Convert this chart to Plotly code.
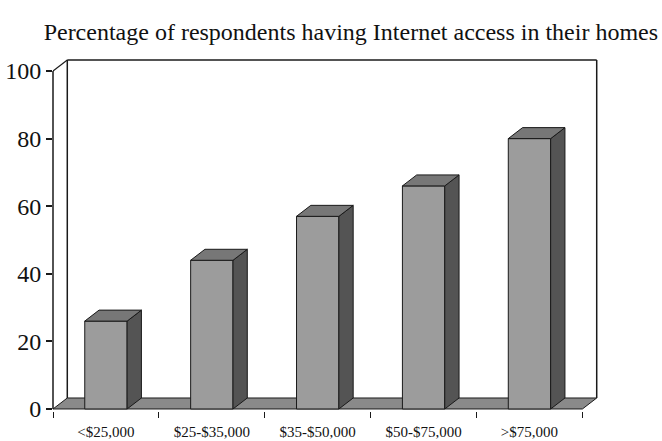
import plotly.graph_objects as go

categories = ["<$25,000", "$25-$35,000", "$35-$50,000", "$50-$75,000", ">$75,000"]
values = [26, 44, 57, 66, 80]
y_ticks = [0, 20, 40, 60, 80, 100]
title_text = "Percentage of respondents having Internet access in their homes"

# 3D depth offsets (data units)
DX = 0.135
DY = 3.25
BAR_W = 0.40

xpos = list(range(len(categories)))
XMIN, XMAX = -0.5, 4.5 + DX + 0.05
YMIN, YMAX = -0.6, 100 + DY + 0.6

FRONT = "#9c9c9c"
SIDE = "#545454"
TOP = "#777777"
EDGE = "#1a1a1a"
FONT = "Liberation Serif"

fig = go.Figure()

# front faces
fig.add_trace(go.Bar(
    x=xpos, y=values, width=BAR_W,
    marker=dict(color=FRONT, line=dict(color=EDGE, width=1)),
    hoverinfo="skip", showlegend=False,
))

# side and top faces
for xi, v in zip(xpos, values):
    r = xi + BAR_W / 2
    l = xi - BAR_W / 2
    fig.add_trace(go.Scatter(
        x=[r, r + DX, r + DX, r, r], y=[0, DY, v + DY, v, 0],
        mode="lines", fill="toself", fillcolor=SIDE,
        line=dict(color=EDGE, width=1), hoverinfo="skip", showlegend=False,
    ))
    fig.add_trace(go.Scatter(
        x=[l, r, r + DX, l + DX, l], y=[v, v, v + DY, v + DY, v],
        mode="lines", fill="toself", fillcolor=TOP,
        line=dict(color=EDGE, width=1), hoverinfo="skip", showlegend=False,
    ))

shapes = []
# floor
shapes.append(dict(type="path", xref="x", yref="y", layer="below",
                   path=f"M -0.5 0 L 4.5 0 L {4.5+DX} {DY} L {-0.5+DX} {DY} Z",
                   fillcolor="#8a8a8a", line=dict(color=EDGE, width=1)))
# back walls
wall = dict(color=EDGE, width=1.5)
shapes.append(dict(type="line", xref="x", yref="y", layer="below",
                   x0=-0.5 + DX, x1=-0.5 + DX, y0=DY, y1=100 + DY, line=wall))
shapes.append(dict(type="line", xref="x", yref="y", layer="below",
                   x0=-0.5 + DX, x1=4.5 + DX, y0=100 + DY, y1=100 + DY, line=wall))
shapes.append(dict(type="line", xref="x", yref="y", layer="below",
                   x0=4.5 + DX, x1=4.5 + DX, y0=100 + DY, y1=DY, line=wall))
# front value axis
shapes.append(dict(type="line", xref="paper", yref="y", layer="above",
                   x0=0, x1=0, y0=0, y1=100, line=dict(color=EDGE, width=1.5)))
shapes.append(dict(type="line", xref="x", yref="y", layer="above",
                   x0=-0.5, x1=-0.5 + DX, y0=100, y1=100 + DY, line=dict(color=EDGE, width=1.2)))

fig.update_layout(
    width=662, height=441,
    margin=dict(l=53, r=60, t=58, b=30, autoexpand=False),
    paper_bgcolor="white", plot_bgcolor="white",
    shapes=shapes,
    title=dict(text=title_text, xref="container", yref="container",
               x=0.53, xanchor="center", y=1 - 32 / 441, yanchor="middle",
               font=dict(family=FONT, size=24, color="#111")),
    xaxis=dict(range=[XMIN, XMAX], showgrid=False, zeroline=False, showline=False,
               automargin=False,
               tickvals=xpos, ticktext=categories, ticks="",
               ticklabelstandoff=10,
               tickfont=dict(family=FONT, size=15, color="#111"),
               minor=dict(tickvals=[i - 0.5 for i in range(len(categories) + 1)],
                          ticks="outside", ticklen=6, tickcolor=EDGE, tickwidth=1),
               fixedrange=True),
    yaxis=dict(range=[YMIN, YMAX], showgrid=False, zeroline=False, showline=False,
               automargin=False,
               tickvals=y_ticks, ticks="outside", ticklen=6, tickcolor=EDGE, tickwidth=1.5,
               tickfont=dict(family=FONT, size=24, color="#111"),
               fixedrange=True),
    bargap=0.6,
)

fig.write_html("out.html")
